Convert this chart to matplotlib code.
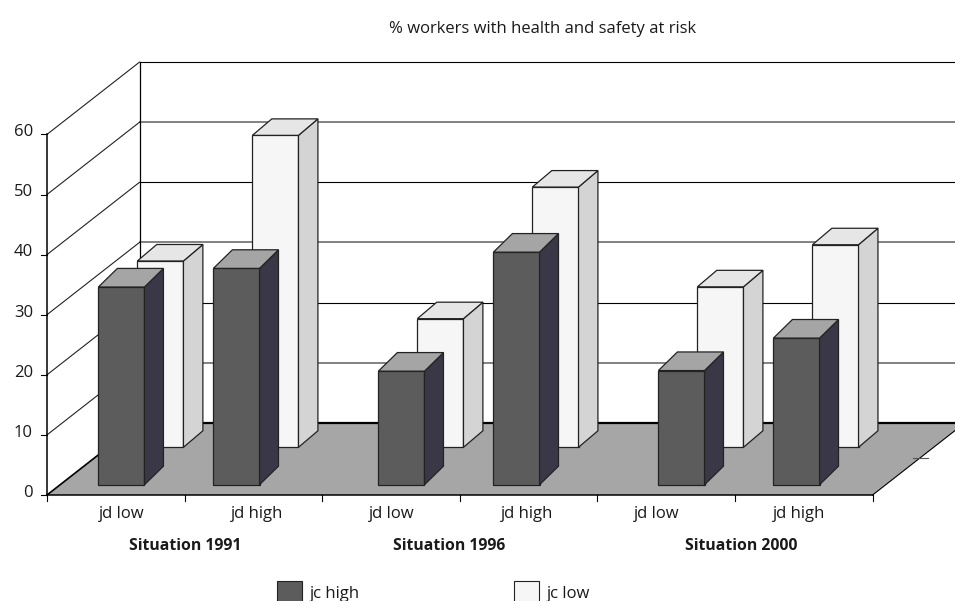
import matplotlib
matplotlib.use('Agg')
import matplotlib.pyplot as plt
from matplotlib.patches import Polygon, Rectangle

plt.rcParams['font.family'] = ['Open Sans', 'DejaVu Sans']

TITLE = "% workers with health and safety at risk"
TICKS = [0, 10, 20, 30, 40, 50, 60]
JD_LABELS = ["jd low", "jd high", "jd low", "jd high", "jd low", "jd high"]
SITUATIONS = ["Situation 1991", "Situation 1996", "Situation 2000"]
JC_HIGH = [32.9, 36.0, 18.9, 38.7, 19.0, 24.4]
JC_LOW = [31.0, 51.9, 21.4, 43.3, 26.7, 33.7]

# pixel scale of the front plane
SLOT = 137.6
UNIT = 6.01
X0, Y0 = 47, 495
DX = 92.5 / SLOT   # full depth, x shift
DY = 72.3 / UNIT   # full depth, y shift

BAR_W = 0.335
FRONT_COLORS = ("#5c5c5c", "#3a3847", "#a5a5a5")
BACK_COLORS = ("#f6f6f6", "#d4d4d4", "#e6e6e6")


def proj(x, v, d=0.0):
    return x + d * DX, v + d * DY


def slot_x(px):
    return (px - X0) / SLOT


def val_y(py):
    return (Y0 - py) / UNIT


def draw_bar(ax, x, v, d, depth_x, depth_y, colors, z):
    w = BAR_W
    x0, base = proj(x, 0, d)
    x1 = x0 + w
    sx = depth_x * DX
    sy = depth_y * DY
    front = [(x0, base), (x1, base), (x1, base + v), (x0, base + v)]
    side = [(x1, base), (x1 + sx, base + sy), (x1 + sx, base + v + sy), (x1, base + v)]
    top = [(x0, base + v), (x1, base + v), (x1 + sx, base + v + sy), (x0 + sx, base + v + sy)]
    for pts, c in zip((front, side, top), colors):
        ax.add_patch(Polygon(pts, closed=True, facecolor=c, edgecolor="#222222", linewidth=0.9, zorder=z))


fig = plt.figure(figsize=(9.55, 6.01), dpi=100)
ax = fig.add_axes([0, 0, 1, 1])
ax.set_xlim(slot_x(0), slot_x(955))
ax.set_ylim(val_y(601), val_y(0))
ax.axis("off")

# floor
ax.add_patch(Polygon([proj(0, 0), proj(6, 0), proj(6, 0, 1), proj(0, 0, 1)], closed=True,
                     facecolor="#a6a6a6", edgecolor="none", zorder=1))
ax.plot(*zip(proj(0, 0, 1), proj(6, 0, 1)), color="black", lw=1.6, zorder=2)
ax.plot(*zip(proj(0, 0), proj(6, 0)), color="black", lw=1.1, zorder=2)
ax.plot(*zip(proj(6, 0), proj(6, 0, 1)), color="black", lw=0.8, zorder=2)
ax.plot(*zip(proj(0, 0), proj(0, 0, 1)), color="black", lw=1.2, zorder=2)

# walls and gridlines
for i, t in enumerate(TICKS):
    if t > 0:
        grid_color = "#777777" if i % 2 == 1 else "black"
        grid_lw = 1.3 if i % 2 == 1 else 0.8
        ax.plot(*zip(proj(0, t, 1), proj(6, t, 1)), color=grid_color, lw=grid_lw, zorder=1)
        ax.plot(*zip(proj(0, t), proj(0, t, 1)), color="#222222", lw=0.8, zorder=1)
    ax.plot([slot_x(41), 0], [t, t], color="black", lw=0.8, zorder=2)
    ax.text(slot_x(33), t + 0.35, str(t), ha="right", va="center", fontsize=12, color="#1a1a1a")
ax.plot([0, 0], [0, 60], color="black", lw=1.1, zorder=2)
ax.plot(*zip(proj(0, 0, 1), proj(0, 60, 1)), color="black", lw=0.9, zorder=1)

# ticks below the floor
for i in range(7):
    ax.plot([i, i], [0, val_y(501)], color="black", lw=0.8, zorder=2)
ax.plot([slot_x(913), slot_x(928)], [val_y(458), val_y(458)], color="#555555", lw=0.8, zorder=2)

# bars, back row first
lefts = []
for g in range(3):
    lefts += [0.278 + g * 2.035, 0.278 + g * 2.035 + 0.836]

for i, v in enumerate(JC_LOW):
    draw_bar(ax, lefts[i] - 0.065, v, 0.66, 0.21, 0.228, BACK_COLORS, 3 + i * 0.01)
for i, v in enumerate(JC_HIGH):
    draw_bar(ax, lefts[i], v, 0.142, 0.205, 0.257, FRONT_COLORS, 4 + i * 0.01)

# axis labels
jd_px = [122, 257.5, 392, 527.5, 657, 799]
for px, lab in zip(jd_px, JD_LABELS):
    ax.text(slot_x(px), val_y(513.5), lab, ha="center", va="center", fontsize=12, color="#1a1a1a")
sit_px = [185, 449, 741]
for px, lab in zip(sit_px, SITUATIONS):
    ax.text(slot_x(px), val_y(545.5), lab, ha="center", va="center", fontsize=11.3,
            fontweight="bold", color="#1a1a1a")
ax.text(slot_x(543), val_y(28.5), TITLE, ha="center", va="center", fontsize=12, color="#1a1a1a")

# legend, runs off the bottom edge like the original
for px, c, lab in [(277, FRONT_COLORS[0], "jc high"), (514, BACK_COLORS[0], "jc low")]:
    ax.add_patch(Rectangle((slot_x(px), val_y(605)), 25 / SLOT, 24 / UNIT, facecolor=c,
                           edgecolor="#222222", linewidth=0.8, zorder=3))
    ax.text(slot_x(px + 33), val_y(593.5), lab, ha="left", va="center", fontsize=12, color="#1a1a1a")

plt.savefig("out.png", dpi=100)
